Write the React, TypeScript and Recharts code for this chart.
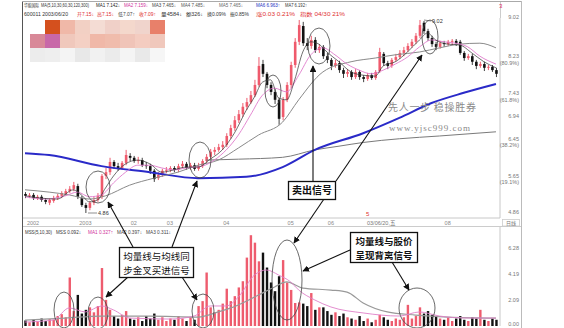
import React from 'react';
import { ComposedChart, Bar, Line, XAxis, YAxis } from 'recharts';

// ---------- data ----------
const opens = [
  5.27,5.23,5.25,5.18,5.21,5.14,5.08,5.12,5.18,5.23,
  5.27,5.33,5.38,5.44,5.18,5.03,4.97,5.08,5.14,5.21,
  5.66,5.74,5.96,5.87,5.83,5.94,6.09,6.05,5.98,6.00,
  5.89,5.87,5.77,5.61,5.68,5.77,5.79,5.83,5.79,5.87,
  5.92,5.83,5.89,5.81,5.87,5.98,6.07,6.18,6.22,6.28,
  6.33,6.52,6.69,6.86,6.99,7.15,7.25,7.40,7.62,8.07,
  7.86,7.62,7.47,7.30,6.93,7.30,7.62,8.05,8.55,8.89,
  8.52,8.46,8.59,8.37,8.44,8.24,8.16,8.03,8.09,7.94,
  7.86,7.90,7.79,7.90,7.79,7.75,7.83,7.77,7.92,8.29,
  8.09,8.03,8.16,8.22,8.31,8.37,8.46,8.55,8.68,8.96,
  8.78,8.63,8.50,8.44,8.52,8.50,8.55,8.57,8.55,8.31,
  8.20,8.24,8.12,8.03,8.07,7.99,8.01,7.94,
];
const closes = [
  5.23,5.25,5.18,5.21,5.14,5.10,5.14,5.18,5.23,5.29,
  5.33,5.38,5.46,5.21,5.03,4.97,5.08,5.14,5.23,5.66,
  5.74,5.96,5.87,5.83,5.94,6.11,6.05,5.98,6.00,5.89,
  5.87,5.77,5.59,5.68,5.77,5.79,5.83,5.79,5.87,5.92,
  5.83,5.89,5.81,5.87,5.98,6.07,6.18,6.22,6.28,6.33,
  6.52,6.69,6.86,6.99,7.15,7.25,7.40,7.62,8.03,7.86,
  7.62,7.47,7.30,6.89,7.30,7.62,8.05,8.55,8.91,8.52,
  8.46,8.59,8.37,8.44,8.24,8.16,8.03,8.09,7.94,7.86,
  7.90,7.79,7.90,7.79,7.75,7.83,7.77,7.90,8.33,8.09,
  8.03,8.16,8.22,8.31,8.37,8.46,8.55,8.68,8.91,8.78,
  8.63,8.50,8.44,8.52,8.50,8.55,8.57,8.52,8.31,8.20,
  8.24,8.12,8.03,8.07,7.99,8.01,7.94,7.86,
];
const highs = [
  5.31,5.29,5.29,5.25,5.25,5.18,5.18,5.23,5.27,5.33,
  5.38,5.44,5.53,5.49,5.23,5.08,5.12,5.21,5.29,5.70,
  5.83,6.05,6.00,5.94,5.98,6.22,6.15,6.09,6.07,6.05,
  5.96,5.92,5.81,5.74,5.81,5.85,5.87,5.87,5.92,5.98,
  5.96,5.94,5.94,5.94,6.02,6.13,6.24,6.28,6.35,6.41,
  6.58,6.76,6.95,7.08,7.23,7.34,7.49,7.73,8.22,8.16,
  7.90,7.68,7.53,7.34,7.36,7.68,8.12,8.63,9.02,8.98,
  8.63,8.68,8.65,8.50,8.48,8.31,8.20,8.16,8.14,7.99,
  7.96,7.94,7.96,7.94,7.83,7.88,7.88,7.94,8.42,8.33,
  8.14,8.20,8.29,8.37,8.44,8.52,8.61,8.74,9.02,9.00,
  8.83,8.68,8.55,8.57,8.57,8.59,8.61,8.61,8.59,8.35,
  8.29,8.29,8.16,8.12,8.12,8.05,8.05,7.99,
];
const lows = [
  5.18,5.18,5.14,5.14,5.10,5.05,5.03,5.08,5.14,5.18,
  5.23,5.29,5.33,5.16,4.99,4.86,4.92,5.03,5.10,5.16,
  5.59,5.68,5.81,5.77,5.79,5.89,5.98,5.94,5.92,5.85,
  5.81,5.70,5.53,5.57,5.64,5.72,5.74,5.74,5.74,5.83,
  5.79,5.79,5.77,5.77,5.83,5.94,6.02,6.11,6.18,6.22,
  6.28,6.46,6.63,6.80,6.93,7.08,7.21,7.36,7.58,7.79,
  7.55,7.40,7.21,6.76,6.86,7.25,7.55,7.99,8.48,8.46,
  8.37,8.40,8.31,8.31,8.18,8.09,7.94,7.99,7.88,7.77,
  7.79,7.73,7.75,7.73,7.68,7.71,7.73,7.73,7.88,8.03,
  7.96,7.99,8.12,8.18,8.24,8.33,8.42,8.50,8.63,8.72,
  8.57,8.44,8.37,8.40,8.44,8.46,8.48,8.46,8.27,8.14,
  8.16,8.05,7.96,7.99,7.92,7.94,7.90,7.79,
];
const volumes = [
  0.45,0.3,0.5,0.35,0.6,0.4,0.55,0.5,0.8,0.95,
  0.7,3.9,1.2,2.5,1.0,1.3,1.5,1.1,1.6,4.66,
  2.1,1.3,0.8,0.6,0.9,1.2,0.6,0.5,0.7,0.4,
  0.8,0.6,1.0,0.5,0.7,0.4,0.6,0.5,0.8,0.6,
  0.4,0.7,0.5,1.6,2.0,4.3,1.5,1.1,1.3,1.8,
  3.0,2.0,2.4,3.1,3.6,5.5,7.3,6.7,5.2,5.9,
  4.7,3.5,2.8,4.0,5.3,3.5,2.9,1.85,1.9,1.8,
  1.6,2.65,1.3,1.5,1.5,1.2,0.9,1.1,0.8,1.0,
  0.7,0.6,0.5,0.8,0.4,0.6,0.3,0.5,0.9,0.7,
  0.5,0.4,0.6,0.5,0.7,1.7,0.6,0.8,1.5,1.0,
  1.2,0.9,0.8,0.6,0.5,0.7,0.4,0.6,0.8,0.5,
  0.4,0.7,0.6,1.3,0.5,0.4,0.6,0.5,
];
// moving averages: [candle index, value]
const ma5 = [[0,5.23],[4,5.18],[8,5.16],[12,5.36],[14,5.25],[16,5.10],[18,5.14],[20,5.40],[22,5.66],[25,5.92],[28,6.00],[31,5.92],[34,5.74],[37,5.79],[40,5.85],[43,5.85],[46,6.02],[49,6.22],[52,6.58],[55,7.08],[57,7.36],[59,7.68],[61,7.73],[63,7.34],[65,7.30],[67,7.73],[69,8.33],[71,8.55],[73,8.50],[75,8.33],[78,8.12],[81,7.90],[84,7.83],[87,7.81],[89,8.03],[92,8.12],[95,8.33],[98,8.59],[100,8.74],[102,8.59],[105,8.50],[108,8.48],[111,8.31],[114,8.12],[117,7.99]];
const ma10 = [[0,5.21],[5,5.16],[10,5.23],[13,5.31],[16,5.21],[19,5.25],[22,5.51],[25,5.74],[28,5.89],[31,5.89],[34,5.83],[37,5.79],[40,5.83],[44,5.87],[47,6.00],[50,6.22],[53,6.54],[56,6.97],[59,7.40],[62,7.55],[65,7.47],[68,7.83],[71,8.27],[74,8.42],[77,8.27],[80,8.07],[83,7.94],[86,7.86],[89,7.94],[92,8.07],[95,8.22],[98,8.44],[101,8.59],[104,8.55],[107,8.52],[110,8.44],[113,8.24],[117,8.07]];
const ma30 = [[0,5.36],[6,5.31],[11,5.25],[16,5.16],[20,5.23],[26,5.46],[32,5.61],[38,5.74],[43,5.89],[48,6.00],[53,6.26],[58,6.54],[64,6.82],[68,7.30],[74,7.90],[81,8.12],[87,8.20],[92,8.27],[98,8.33],[103,8.42],[108,8.50],[113,8.52],[117,8.42]];
const ma60 = [[45,6.00],[53,6.02],[64,6.06],[72,6.22],[78,6.30],[84,6.38],[93,6.46],[103,6.52],[117,6.61]];
const ma120 = [[0,6.15],[6,6.11],[19,5.87],[31,5.74],[43,5.61],[55,5.64],[64,5.85],[72,6.22],[84,6.58],[93,6.91],[101,7.23],[109,7.45],[117,7.64]];
const volMaLong = [[0,0.48],[10,0.64],[19,0.80],[31,0.80],[43,0.72],[48,1.13],[53,1.69],[58,2.49],[62,3.14],[65,3.54],[69,3.05],[76,2.89],[80,2.73],[84,1.85],[90,1.13],[97,0.88],[105,0.72],[117,0.64]];
const volMaShort = [[0,0.32],[7,0.48],[11,1.45],[15,1.13],[19,1.61],[22,1.29],[26,0.64],[36,0.56],[42,0.80],[46,1.61],[50,1.61],[53,2.33],[57,4.10],[60,4.50],[63,4.10],[66,3.54],[68,2.89],[72,2.09],[76,1.53],[84,1.05],[93,0.80],[98,1.13],[103,0.80],[110,0.64],[117,0.64]];

const dateTickIdx = [2, 15, 27, 36, 50, 66, 76, 105];
const dateTickLabels = ['2002', '2003', '02', '03', '04', '05', '06', '08'];
const priceTicks = [4.86, 5.65, 6.45, 6.94, 7.43, 8.23, 9.02];
const priceTickPct = ['', '(19.1%)', '(38.2%)', '', '(61.8%)', '(80.9%)', ''];
const volTicks = [0, 2.09, 4.19, 6.28];
const volTickLabels = ['0.00', '2.09', '4.19', '6.28'];

// ---------- derived tables ----------
const candles = opens.map((o, i) => ({ i, o, c: closes[i], h: highs[i], l: lows[i] }));
const vols = volumes.map((v, i) => ({ i, v, up: closes[i] >= opens[i] }));
const toLine = (arr: number[][]) => arr.map(([i, p]) => ({ i, p }));

const FONT = "'Liberation Sans', 'Noto Sans CJK SC', sans-serif";
const CJK = "'Noto Sans CJK SC', sans-serif";

const Candle = (props: any) => {
  const { x, y, width, height, payload } = props;
  if (x == null || y == null || !payload) return null;
  const { o, c, h, l } = payload;
  const top0 = Math.min(y, y + height);
  const hh = Math.abs(height);
  const span = h - l || 1;
  const py = (v: number) => top0 + ((h - v) / span) * hh;
  const cx = x + width / 2;
  const up = c >= o;
  const color = up ? '#e8344a' : '#111';
  const bt = py(Math.max(o, c));
  const bb = py(Math.min(o, c));
  return (
    <g>
      <line x1={cx} x2={cx} y1={top0} y2={top0 + hh} stroke={color} strokeWidth={0.8} />
      <rect x={cx - 1.3} y={bt} width={2.6} height={Math.max(bb - bt, 0.8)} fill={up ? '#ef5a6c' : '#111'} />
    </g>
  );
};

const VolBar = (props: any) => {
  const { x, y, width, height, payload } = props;
  if (x == null || y == null || !payload) return null;
  const cx = x + width / 2;
  return <rect x={cx - 1.2} y={y} width={2.4} height={Math.max(height, 0.5)} fill={payload.up ? '#ee5c6e' : '#111'} />;
};

const PriceTick = (props: any) => {
  const { y, payload } = props;
  const idx = priceTicks.indexOf(payload.value);
  const pct = priceTickPct[idx] || '';
  const isTop = idx === priceTicks.length - 1;
  return (
    <g>
      <text x={519} y={isTop ? y - 1 : y + 1.5} textAnchor="end" fontSize={5.5} fill="#777" fontFamily={FONT}>
        {payload.value.toFixed(2)}
      </text>
      {pct ? (
        <text x={519} y={y + 8} textAnchor="end" fontSize={5.5} fill="#777" fontFamily={FONT}>
          {pct}
        </text>
      ) : null}
    </g>
  );
};

const VolTick = (props: any) => {
  const { y, payload } = props;
  const idx = volTicks.indexOf(payload.value);
  return (
    <text x={519} y={idx === 0 ? y : y + 2} textAnchor="end" fontSize={5.5} fill="#777" fontFamily={FONT}>
      {volTickLabels[idx]}
    </text>
  );
};

const DateTick = (props: any) => {
  const { x, payload } = props;
  const idx = dateTickIdx.indexOf(payload.value);
  return (
    <text x={x} y={224.5} textAnchor="middle" fontSize={5.5} fill="#888" fontFamily={FONT}>
      {dateTickLabels[idx]}
    </text>
  );
};

// ---------- decoration (header, mosaic, callouts) ----------
const header1 = [
  { t: '华能国际', x: 24, w: 15, c: '#333' },
  { t: 'MA(5,10,30,60,30,120,300)', x: 41, w: 48, c: '#333' },
  { t: 'MA1 7.142↓', x: 96, w: 24, c: '#222' },
  { t: 'MA2 7.159↓', x: 124, w: 24, c: '#d0309a' },
  { t: 'MA3 7.465↓', x: 152, w: 24, c: '#444' },
  { t: 'MA4 7.485↓', x: 181, w: 24, c: '#555' },
  { t: 'MA5 7.465↓', x: 219, w: 24, c: '#666' },
  { t: 'MA6 6.963↑', x: 256, w: 24, c: '#2030c0' },
  { t: 'MA7 6.192↑', x: 285, w: 22, c: '#333' },
];
const header2 = [
  { t: '600011  2003/06/20', x: 24, w: 44, c: '#333' },
  { t: '开7.15↓', x: 77, w: 17, c: '#e03030' },
  { t: '高7.15↓', x: 97, w: 17, c: '#e03030' },
  { t: '低7.07↑', x: 118, w: 17, c: '#444' },
  { t: '收7.09↑', x: 139, w: 17, c: '#e03030' },
  { t: '量4584↓', x: 161, w: 21, c: '#333' },
  { t: '额326↓', x: 186, w: 17, c: '#333' },
  { t: '换0.09%', x: 207, w: 19, c: '#333' },
  { t: '振0.85%', x: 230, w: 19, c: '#333' },
  { t: '涨0.03 0.21%', x: 256, w: 39, c: '#e03030' },
  { t: '指数 04/30 21%', x: 300, w: 45, c: '#e03030' },
];
const volHeader = [
  { t: 'MSS(5,10,30)', x: 25, w: 27, c: '#333' },
  { t: 'MSS 0.092↓', x: 56, w: 25, c: '#333' },
  { t: 'MA1 0.327↑', x: 88, w: 25, c: '#d0309a' },
  { t: 'MA2 0.397↓', x: 117, w: 25, c: '#444' },
  { t: 'MA3 0.311↓', x: 146, w: 25, c: '#444' },
];
const mosaicRows = [
  ['#ffffff', '#d4501e', '#f0b8a8', '#f2d0c4', '#f4dcd4', '#f0d0c8', '#f4d8cc', '#f0d4cc', '#e8806a'],
  ['#d88898', '#c868a8', '#f0c8bc', '#f4d0c4', '#f0b8a8', '#f0bcac', '#f0c4b8', '#f4ccc0', '#f0c8bc'],
  ['#ececec', '#eeeeee', '#f4f4f4', '#e8e8e8', '#f1f1f1', '#ebebeb', '#f4f4f4', '#e9e9e9', '#f6f6f6'],
];
const ellipses = [
  { cx: 98, cy: 187, rx: 12, ry: 16 },
  { cx: 200, cy: 160, rx: 11, ry: 18 },
  { cx: 273, cy: 91, rx: 8, ry: 16 },
  { cx: 319, cy: 46, rx: 11, ry: 18 },
  { cx: 430, cy: 37, rx: 8, ry: 17 },
  { cx: 64, cy: 310, rx: 10, ry: 18 },
  { cx: 98, cy: 313, rx: 10, ry: 16 },
  { cx: 203, cy: 311, rx: 11, ry: 17 },
  { cx: 287, cy: 280, rx: 15, ry: 40 },
  { cx: 417, cy: 308, rx: 18, ry: 20 },
];
const arrows = [
  [133, 247, 108, 202],
  [172, 247, 197, 181],
  [128, 277, 106, 297],
  [182, 277, 197, 300],
  [313, 181, 313, 66],
  [336, 181, 422, 55],
  [324, 199, 294, 243],
  [350, 250, 303, 271],
  [392, 262, 409, 290],
];

const Overlay = () => (
  <svg width={564} height={328} style={{ position: 'absolute', left: 0, top: 0, pointerEvents: 'none' }}>
    <defs>
      <marker id="ah" viewBox="0 0 10 10" refX="9" refY="5" markerWidth="6" markerHeight="6" orient="auto-start-reverse">
        <path d="M0,0 L10,5 L0,10 z" fill="#111" />
      </marker>
    </defs>
    {/* frame */}
    <line x1={22.5} x2={22.5} y1={1} y2={328} stroke="#555" strokeWidth={1} />
    <line x1={22} x2={522} y1={1.5} y2={1.5} stroke="#aaa" strokeWidth={1} />
    <line x1={521.5} x2={521.5} y1={1} y2={328} stroke="#bbb" strokeWidth={1} />
    <line x1={500.5} x2={500.5} y1={2} y2={18} stroke="#ccc" strokeWidth={1} />
    <line x1={23} x2={521} y1={226.5} y2={226.5} stroke="#ccc" strokeWidth={1} />
    {/* header */}
    {header1.map((s, k) => (
      <text key={'h1' + k} x={s.x} y={6.8} fontSize={4.7} fill={s.c} fontFamily={FONT} textLength={s.w} lengthAdjust="spacingAndGlyphs">{s.t}</text>
    ))}
    {header2.map((s, k) => (
      <text key={'h2' + k} x={s.x} y={16} fontSize={4.8} fill={s.c} fontFamily={FONT} textLength={s.w} lengthAdjust="spacingAndGlyphs">{s.t}</text>
    ))}
    <text x={499} y={8} fontSize={6} fill="#e03060" fontFamily={FONT}>3</text>
    {volHeader.map((s, k) => (
      <text key={'vh' + k} x={s.x} y={234} fontSize={5} fill={s.c} fontFamily={FONT} textLength={s.w} lengthAdjust="spacingAndGlyphs">{s.t}</text>
    ))}
    {/* mosaic */}
    {mosaicRows.map((row, r) =>
      row.map((col, c) => (
        <rect key={`m${r}-${c}`} x={30 + c * 15} y={20 + r * 14} width={15} height={14} fill={col} />
      ))
    )}
    {/* date band extras */}
    <text x={367} y={224.5} fontSize={5.5} fill="#777" fontFamily={FONT}>03/06/20,五</text>
    <text x={366} y={216} fontSize={6} fill="#e03030" fontFamily={FONT}>5</text>
    <rect x={502.5} y={219.5} width={17} height={6.5} fill="#fff" stroke="#ccc" strokeWidth={0.8} />
    <text x={511} y={225} fontSize={5} fill="#777" textAnchor="middle" fontFamily={CJK}>日线</text>
    {/* extreme labels */}
    <line x1={88} x2={97} y1={213} y2={213} stroke="#444" strokeWidth={0.6} />
    <text x={98} y={215} fontSize={5.5} fill="#333" fontFamily={FONT}>4.86</text>
    <line x1={424} x2={431} y1={20} y2={21} stroke="#444" strokeWidth={0.6} />
    <text x={432} y={23} fontSize={5.5} fill="#333" fontFamily={FONT}>9.02</text>
    {/* watermark */}
    <text x={388} y={111} fontSize={10} fill="#8a8a8a" fontFamily={CJK} textLength={88} lengthAdjust="spacing">先人一步   稳操胜券</text>
    <text x={389} y={131} fontSize={9} fill="#8a8a8a" fontFamily="'Liberation Serif', serif" textLength={81} lengthAdjust="spacing">www.yjsc999.com</text>
    {/* ellipses */}
    {ellipses.map((e, k) => (
      <ellipse key={'e' + k} cx={e.cx} cy={e.cy} rx={e.rx} ry={e.ry} fill="none" stroke="#444" strokeWidth={0.8} />
    ))}
    {/* arrows */}
    {arrows.map((a, k) => (
      <line key={'a' + k} x1={a[0]} y1={a[1]} x2={a[2]} y2={a[3]} stroke="#111" strokeWidth={1.1} markerEnd="url(#ah)" />
    ))}
    {/* callout boxes */}
    <rect x={288.5} y={181.5} width={47} height={18} fill="#fff" stroke="#111" strokeWidth={1.3} />
    <text x={312} y={194} fontSize={10} fontWeight="bold" textAnchor="middle" fill="#111" fontFamily={CJK}>卖出信号</text>
    <rect x={119.5} y={247.5} width={74} height={30} fill="#fff" stroke="#111" strokeWidth={1.3} />
    <text x={156.5} y={259.5} fontSize={9.5} textAnchor="middle" fill="#111" fontFamily={CJK}>均量线与均线同</text>
    <text x={156.5} y={273.5} fontSize={9.5} textAnchor="middle" fill="#111" fontFamily={CJK}>步金叉买进信号</text>
    <rect x={350.5} y={232.5} width={67} height={30} fill="#fff" stroke="#111" strokeWidth={1.3} />
    <text x={384} y={244.5} fontSize={9.5} fontWeight="bold" textAnchor="middle" fill="#111" fontFamily={CJK}>均量线与股价</text>
    <text x={384} y={258.5} fontSize={9.5} fontWeight="bold" textAnchor="middle" fill="#111" fontFamily={CJK}>呈现背离信号</text>
  </svg>
);

export default function App() {
  return (
    <div style={{ position: 'absolute', left: 0, top: 0, width: 564, height: 328, background: '#fff', overflow: 'hidden' }}>
      <div style={{ position: 'absolute', left: 0, top: 0 }}>
        <ComposedChart width={522} height={227} data={candles} margin={{ top: 18, right: 0, bottom: 0, left: 23 }}>
          <XAxis
            type="number"
            dataKey="i"
            domain={[-0.5, 118]}
            ticks={dateTickIdx}
            interval={0}
            tick={<DateTick />}
            tickLine={false}
            axisLine={{ stroke: '#c8c8c8' }}
            height={9}
            allowDataOverflow
          />
          <YAxis
            orientation="right"
            width={22}
            domain={[4.752, 9.063]}
            ticks={priceTicks}
            interval={0}
            tick={<PriceTick />}
            tickLine={false}
            axisLine={{ stroke: '#c8c8c8' }}
            allowDataOverflow
          />
          <Line data={toLine(ma60)} dataKey="p" type="monotone" stroke="#7a7a7a" strokeWidth={1} dot={false} isAnimationActive={false} />
          <Line data={toLine(ma120)} dataKey="p" type="monotone" stroke="#2a2ac8" strokeWidth={2} dot={false} isAnimationActive={false} />
          <Line data={toLine(ma30)} dataKey="p" type="monotone" stroke="#8a8a8a" strokeWidth={1} dot={false} isAnimationActive={false} />
          <Line data={toLine(ma10)} dataKey="p" type="monotone" stroke="#e07ccc" strokeWidth={0.9} dot={false} isAnimationActive={false} />
          <Bar dataKey={(d: any) => [d.l, d.h]} shape={<Candle />} barSize={3} isAnimationActive={false} />
          <Line data={toLine(ma5)} dataKey="p" type="monotone" stroke="#333" strokeWidth={0.7} dot={false} isAnimationActive={false} />
        </ComposedChart>
      </div>
      <div style={{ position: 'absolute', left: 0, top: 226 }}>
        <ComposedChart width={522} height={100} data={vols} margin={{ top: 0, right: 0, bottom: 0, left: 23 }}>
          <XAxis type="number" dataKey="i" domain={[-0.5, 118]} hide allowDataOverflow />
          <YAxis
            orientation="right"
            width={22}
            domain={[0, 8.04]}
            ticks={volTicks}
            interval={0}
            tick={<VolTick />}
            tickLine={false}
            axisLine={{ stroke: '#c8c8c8' }}
            allowDataOverflow
          />
          <Bar dataKey="v" shape={<VolBar />} barSize={3} isAnimationActive={false} />
          <Line data={toLine(volMaLong)} dataKey="p" type="monotone" stroke="#999" strokeWidth={1.2} dot={false} isAnimationActive={false} />
          <Line data={toLine(volMaShort)} dataKey="p" type="monotone" stroke="#e080c8" strokeWidth={0.9} dot={false} isAnimationActive={false} />
        </ComposedChart>
      </div>
      <Overlay />
    </div>
  );
}
